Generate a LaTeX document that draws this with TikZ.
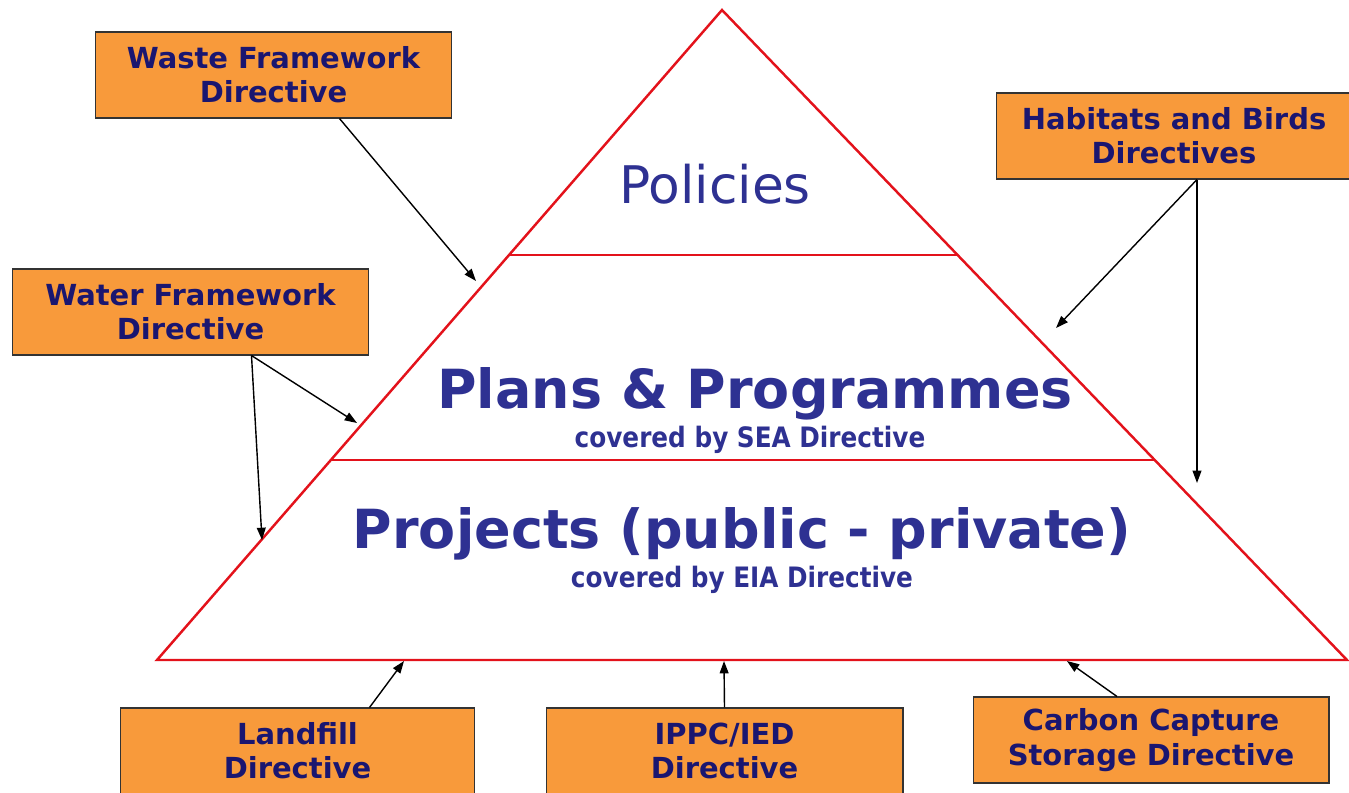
\documentclass[tikz,border=0pt]{standalone}
\usepackage{fontspec}
\setmainfont{DejaVu Sans}
\usepackage{graphicx}
\usepackage{tikz}
\usetikzlibrary{arrows.meta,calc}

\definecolor{boxorange}{HTML}{F89A3B}
\definecolor{navytext}{HTML}{1A1670}
\definecolor{pyrblue}{HTML}{2E3192}
\definecolor{pyrred}{HTML}{E3121B}

\tikzset{
  dirbox/.style={draw=black!80,line width=0.6pt,fill=boxorange,text=navytext,align=center,
    minimum width=7.14cm,minimum height=1.72cm,inner sep=0pt,
    font=\bfseries\fontsize{16.5}{19.5}\selectfont},
  pyrline/.style={draw=pyrred,line width=1.4pt},
  feed/.style={-{Triangle[length=7pt,width=5pt]},line width=0.8pt}
}

\begin{document}
\begin{tikzpicture}[x=0.02cm,y=-0.02cm]
  \useasboundingbox (0,0) rectangle (1349,792);
  \clip (0,0) rectangle (1349,792);

  % ピラミッドの三頂点
  \coordinate (apex) at (722,10);
  \coordinate (botL) at (157,660);
  \coordinate (botR) at (1347,660);
  \draw[pyrline,line join=miter] (apex) -- (botL) -- (botR) -- cycle; % 外枠の三角形

  % 段を分ける横線（Policies の下と Plans の下）
  \coordinate (midL1) at ($(apex)!0.377!(botL)$);
  \coordinate (midR1) at ($(apex)!0.377!(botR)$);
  \coordinate (midL2) at ($(apex)!0.692!(botL)$);
  \coordinate (midR2) at ($(apex)!0.692!(botR)$);
  \draw[pyrline] (midL1) -- (midR1);
  \draw[pyrline] (midL2) -- (midR2);

  % 各段の文字
  \node[anchor=base,text=pyrblue,font=\fontsize{29.5}{30}\selectfont] (policies) at (715,203) {Policies};
  \node[anchor=base,text=pyrblue,font=\bfseries\fontsize{30.7}{31}\selectfont] (plans) at (755,408) {Plans \& Programmes};
  \node[anchor=base,text=pyrblue,font=\bfseries\fontsize{16}{16}\selectfont] (sea) at (750,447) {\scalebox{0.88}[1]{covered by SEA Directive}};
  \node[anchor=base,text=pyrblue,font=\bfseries\fontsize{30.7}{31}\selectfont] (projects) at (742,548) {Projects (public - private)};
  \node[anchor=base,text=pyrblue,font=\bfseries\fontsize{16}{16}\selectfont] (eia) at (742,587) {\scalebox{0.88}[1]{covered by EIA Directive}};

  % 周りの指令ボックス
  \node[dirbox] (waste) at (273.5,75) {Waste Framework\\Directive};
  \node[dirbox,minimum width=7.12cm] (habitats) at (1174,136) {Habitats and Birds\\Directives};
  \node[dirbox] (water) at (190.5,312) {Water Framework\\Directive};
  \node[dirbox,minimum width=7.1cm] (landfill) at (297.5,751) {Landfill\\Directive};
  \node[dirbox] (ippc) at (724.5,751) {IPPC/IED\\Directive};
  \node[dirbox,minimum width=7.12cm] (carbon) at (1151,740) {Carbon Capture\\Storage Directive};

  % 矢印の先端（三角形の辺の近く）
  \coordinate (wasteEnd) at (476,281);
  \coordinate (waterEndA) at (357,423);
  \coordinate (waterEndB) at (262,540);
  \coordinate (habEndA) at (1056,328);
  \coordinate (habEndB) at (1197,483);
  \coordinate (landEnd) at (404,661);
  \coordinate (ippcEnd) at (724,661);
  \coordinate (carbonEnd) at (1067,661);

  \draw[feed] ($(waste.south)+(66,0)$) -- (wasteEnd);
  \draw[feed] ($(water.south)+(61,0)$) -- (waterEndA);
  \draw[feed] ($(water.south)+(61,0)$) -- (waterEndB);
  \draw[feed] ($(habitats.south)+(23,0)$) -- (habEndA);
  \draw[feed] ($(habitats.south)+(23,0)$) -- (habEndB);
  \draw[feed] ($(landfill.north)+(72,0)$) -- (landEnd);
  \draw[feed] (ippc.north) -- (ippcEnd);
  \draw[feed] ($(carbon.north)+(-34,0)$) -- (carbonEnd);
\end{tikzpicture}
\end{document}
